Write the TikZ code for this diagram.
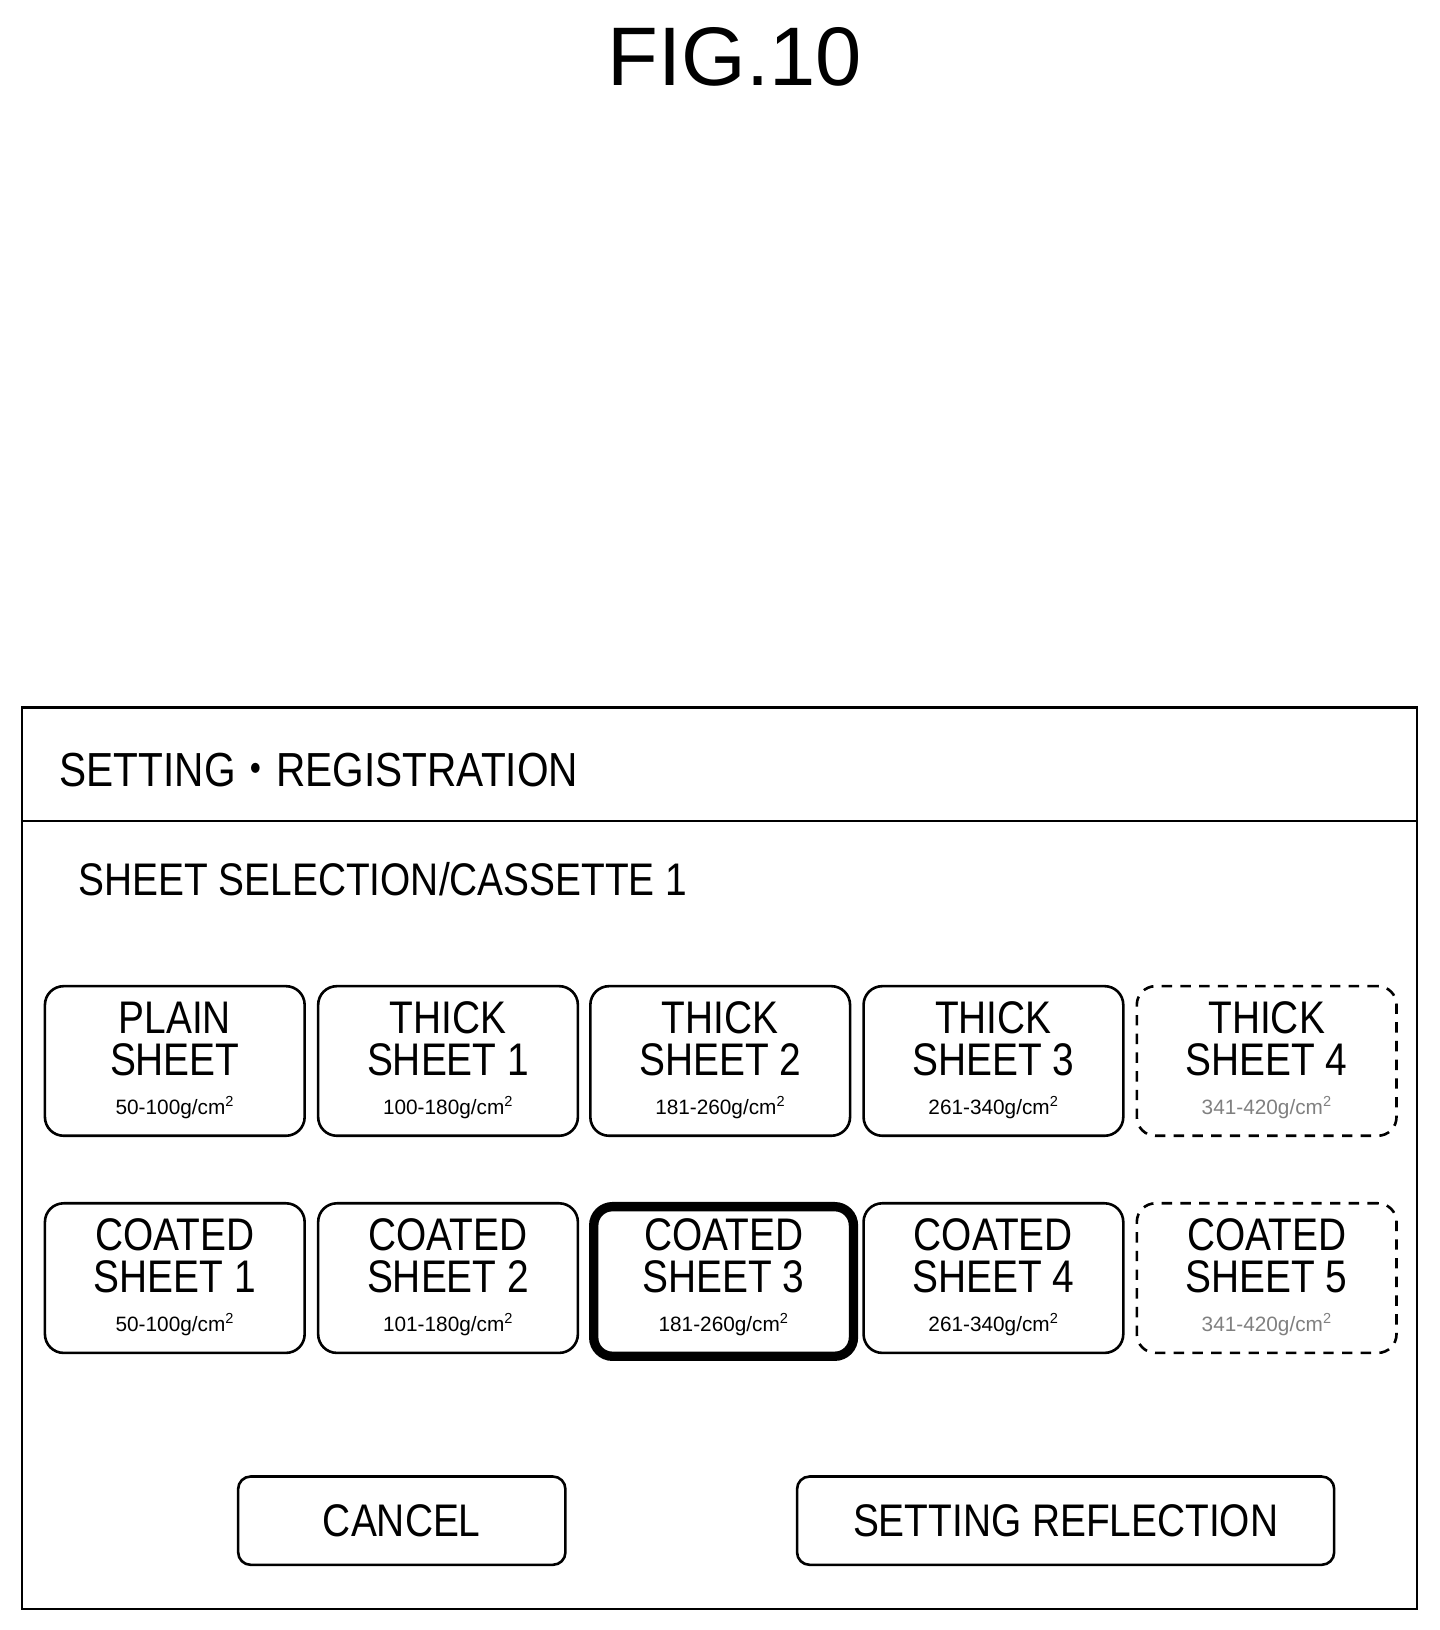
\documentclass[tikz,border=0pt]{standalone}
\usepackage{fontspec}
\setmainfont{Liberation Sans}
\newfontfamily\cond[FakeStretch=0.85]{Liberation Sans}
\newfontfamily\cjk[FakeStretch=0.85]{Noto Sans CJK JP}
\begin{document}
\begin{tikzpicture}[x=1pt,y=-1pt,
  btn/.style={draw,line width=2.5pt,rounded corners=18pt,minimum width=250pt,minimum height=144pt,anchor=north west,inner sep=0pt},
  dsh/.style={btn,dash pattern=on 10pt off 8pt},
  thk/.style={btn,line width=9pt},
  big/.style={font=\cond\fontsize{44}{40}\selectfont},
  sm/.style={font=\fontsize{20}{22}\selectfont}]
\useasboundingbox (0,0) rectangle (1386,1569);
\node (title) at (707,55) {\fontsize{80}{80}\selectfont FIG.10};
\node[draw,line width=2pt,minimum width=1343pt,minimum height=868pt,anchor=north west] (frame) at (20,680) {};
\coordinate (dl) at (20,790); \coordinate (dr) at (1363,790);
\draw[line width=2pt] (dl) -- (dr);
\node[anchor=west,font=\cond\fontsize{46}{46}\selectfont] (h1) at (54,741) {SETTING{\cjk ・}REGISTRATION};
\node[anchor=west,font=\cond\fontsize{44}{44}\selectfont] (h2) at (72,846) {SHEET SELECTION/CASSETTE 1};
\def\mk#1#2#3#4#5#6{\node[#1] (#2) at (#3) {}; \node[big,align=center] at ([yshift=-52pt]#2.north) {#4}; \node[sm,#6] at ([yshift=-118pt]#2.north) {#5};}
\mk{btn}{a1}{42,948}{PLAIN\\SHEET}{50-100g/cm\textsuperscript{2}}{}
\mk{btn}{a2}{305,948}{THICK\\SHEET 1}{100-180g/cm\textsuperscript{2}}{}
\mk{btn}{a3}{567,948}{THICK\\SHEET 2}{181-260g/cm\textsuperscript{2}}{}
\mk{btn}{a4}{830,948}{THICK\\SHEET 3}{261-340g/cm\textsuperscript{2}}{}
\mk{dsh}{a5}{1093,948}{THICK\\SHEET 4}{341-420g/cm\textsuperscript{2}}{text=gray}
\mk{btn}{b1}{42,1157}{COATED\\SHEET 1}{50-100g/cm\textsuperscript{2}}{}
\mk{btn}{b2}{305,1157}{COATED\\SHEET 2}{101-180g/cm\textsuperscript{2}}{}
\mk{thk}{b3}{567,1157}{COATED\\SHEET 3}{181-260g/cm\textsuperscript{2}}{}
\mk{btn}{b4}{830,1157}{COATED\\SHEET 4}{261-340g/cm\textsuperscript{2}}{}
\mk{dsh}{b5}{1093,1157}{COATED\\SHEET 5}{341-420g/cm\textsuperscript{2}}{text=gray}
\node[btn,rounded corners=12pt,minimum width=315pt,minimum height=85pt,font=\cond\fontsize{44}{42}\selectfont] (cancel) at (228,1420) {CANCEL};
\node[btn,rounded corners=12pt,minimum width=517pt,minimum height=85pt,font=\cond\fontsize{44}{42}\selectfont] (refl) at (766,1420) {SETTING REFLECTION};
\end{tikzpicture}
\end{document}
